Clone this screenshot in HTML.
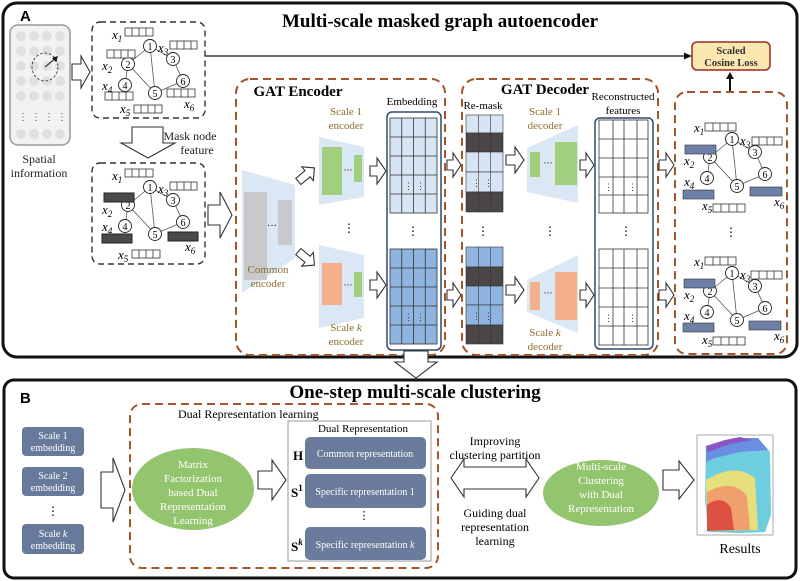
<!DOCTYPE html>
<html><head><meta charset="utf-8"><style>
html,body{margin:0;padding:0;background:#fff;}
svg{display:block;}
text{font-family:"Liberation Serif",serif;}
</style></head><body>
<svg width="800" height="581" viewBox="0 0 800 581" xmlns="http://www.w3.org/2000/svg">
<defs>
<style>
.bar{fill:#fff;stroke:#333;stroke-width:0.8}
.ln{stroke:#333;stroke-width:0.8}
.ed{stroke:#555;stroke-width:0.8}
.nd{fill:#fff;stroke:#222;stroke-width:0.9}
.nt{font-size:10px;text-anchor:middle}
.xl{font-size:13px;font-style:italic}
.ar{fill:#fff;stroke:#333;stroke-width:1.1;stroke-linejoin:miter}
.od{fill:none;stroke:#a5552a;stroke-width:2;stroke-dasharray:8 5}
.kd{fill:none;stroke:#333;stroke-width:1.4;stroke-dasharray:6 4}
.ol{font-size:11px;fill:#8a6d2a;text-anchor:middle}
.bl{font-size:11px;fill:#222;text-anchor:middle}
.wt{font-size:10px;fill:#fff;text-anchor:middle}
</style>
</defs>

<!-- Panel A -->
<rect x="3" y="3" width="794" height="354" rx="14" fill="#fff" stroke="#111" stroke-width="3"/>
<text x="20" y="21" font-family="Liberation Sans,sans-serif" font-weight="bold" font-size="15" style="font-family:'Liberation Sans',sans-serif">A</text>
<text x="440" y="27" font-size="19" font-weight="bold" text-anchor="middle">Multi-scale masked graph autoencoder</text>

<!-- spatial info -->
<rect x="10" y="25" width="60" height="120" rx="8" fill="#f2f2f2" stroke="#999" stroke-width="1.5"/>
<g fill="#e0e0e0">
<circle cx="21" cy="36" r="5"/><circle cx="34" cy="36" r="5"/><circle cx="47" cy="36" r="5"/><circle cx="60" cy="36" r="5"/>
<circle cx="21" cy="51" r="5"/><circle cx="34" cy="51" r="5"/><circle cx="47" cy="51" r="5"/><circle cx="60" cy="51" r="5"/>
<circle cx="21" cy="66" r="5"/><circle cx="34" cy="66" r="5"/><circle cx="47" cy="66" r="5"/><circle cx="60" cy="66" r="5"/>
<circle cx="21" cy="81" r="5"/><circle cx="34" cy="81" r="5"/><circle cx="47" cy="81" r="5"/><circle cx="60" cy="81" r="5"/>
<circle cx="21" cy="96" r="5"/><circle cx="34" cy="96" r="5"/><circle cx="47" cy="96" r="5"/><circle cx="60" cy="96" r="5"/>
<circle cx="21" cy="134" r="5"/><circle cx="34" cy="134" r="5"/><circle cx="47" cy="134" r="5"/><circle cx="60" cy="134" r="5"/>
</g>
<g fill="#555" font-size="10"><text x="18" y="120">⋮</text><text x="31" y="120">⋮</text><text x="44" y="120">⋮</text><text x="57" y="120">⋮</text></g>
<ellipse cx="45" cy="67" rx="13" ry="14" fill="none" stroke="#333" stroke-width="0.9" stroke-dasharray="2.5 2"/>
<line x1="45" y1="67" x2="56" y2="58" stroke="#111" stroke-width="1"/>
<polygon points="58,56 52,58 56,62" fill="#111"/>
<text x="39" y="163" class="bl" font-size="12" style="font-size:12px">Spatial</text>
<text x="39" y="177" class="bl" style="font-size:12px">information</text>

<path class="ar" d="M72,64 L81,64 L81,56 L90,72 L81,88 L81,80 L72,80 Z"/>

<!-- graph box 1 -->
<rect class="kd" x="92" y="22" width="113" height="96" rx="8"/>
<!-- graph box 2 -->
<rect class="kd" x="92" y="163" width="113" height="101" rx="8"/>

<!-- graph template function repeated -->
<g transform="translate(92,22)">
<line class="ed" x1="58" y1="24" x2="36" y2="42"/><line class="ed" x1="58" y1="24" x2="81" y2="37"/><line class="ed" x1="58" y1="24" x2="63" y2="71"/><line class="ed" x1="36" y1="42" x2="33" y2="63"/><line class="ed" x1="36" y1="42" x2="63" y2="71"/><line class="ed" x1="81" y1="37" x2="91" y2="59"/><line class="ed" x1="91" y1="59" x2="63" y2="71"/>
<circle class="nd" cx="58" cy="24" r="6.5"/><text class="nt" x="58" y="28">1</text>
<circle class="nd" cx="81" cy="37" r="6.5"/><text class="nt" x="81" y="41">3</text>
<circle class="nd" cx="36" cy="42" r="6.5"/><text class="nt" x="36" y="46">2</text>
<circle class="nd" cx="91" cy="59" r="6.5"/><text class="nt" x="91" y="63">6</text>
<circle class="nd" cx="33" cy="63" r="6.5"/><text class="nt" x="33" y="67">4</text>
<circle class="nd" cx="63" cy="71" r="6.5"/><text class="nt" x="63" y="75">5</text>
<text class="xl" x="20" y="17">x<tspan font-size="9" dy="3">1</tspan></text>
<rect class="bar" x="33" y="6" width="28" height="8"/><line class="ln" x1="40" y1="6" x2="40" y2="14"/><line class="ln" x1="47" y1="6" x2="47" y2="14"/><line class="ln" x1="54" y1="6" x2="54" y2="14"/>
<text class="xl" x="66" y="30">x<tspan font-size="9" dy="3">3</tspan></text>
<rect class="bar" x="78" y="19" width="27" height="8"/><line class="ln" x1="85" y1="19" x2="85" y2="27"/><line class="ln" x1="92" y1="19" x2="92" y2="27"/><line class="ln" x1="99" y1="19" x2="99" y2="27"/>
<rect class="bar" x="15" y="28" width="28" height="8"/><line class="ln" x1="22" y1="28" x2="22" y2="36"/><line class="ln" x1="29" y1="28" x2="29" y2="36"/><line class="ln" x1="36" y1="28" x2="36" y2="36"/>
<text class="xl" x="10" y="48">x<tspan font-size="9" dy="3">2</tspan></text>
<text class="xl" x="10" y="68">x<tspan font-size="9" dy="3">4</tspan></text>
<rect class="bar" x="13" y="70" width="28" height="8"/><line class="ln" x1="20" y1="70" x2="20" y2="78"/><line class="ln" x1="27" y1="70" x2="27" y2="78"/><line class="ln" x1="34" y1="70" x2="34" y2="78"/>
<rect class="bar" x="75" y="67" width="28" height="8"/><line class="ln" x1="82" y1="67" x2="82" y2="75"/><line class="ln" x1="89" y1="67" x2="89" y2="75"/><line class="ln" x1="96" y1="67" x2="96" y2="75"/>
<text class="xl" x="92" y="86">x<tspan font-size="9" dy="3">6</tspan></text>
<text class="xl" x="28" y="91">x<tspan font-size="9" dy="3">5</tspan></text>
<rect class="bar" x="42" y="83" width="28" height="8"/><line class="ln" x1="49" y1="83" x2="49" y2="91"/><line class="ln" x1="56" y1="83" x2="56" y2="91"/><line class="ln" x1="63" y1="83" x2="63" y2="91"/>
</g>

<g transform="translate(92,163)">
<line class="ed" x1="58" y1="24" x2="36" y2="42"/><line class="ed" x1="58" y1="24" x2="81" y2="37"/><line class="ed" x1="58" y1="24" x2="63" y2="71"/><line class="ed" x1="36" y1="42" x2="33" y2="63"/><line class="ed" x1="36" y1="42" x2="63" y2="71"/><line class="ed" x1="81" y1="37" x2="91" y2="59"/><line class="ed" x1="91" y1="59" x2="63" y2="71"/>
<circle class="nd" cx="58" cy="24" r="6.5"/><text class="nt" x="58" y="28">1</text>
<circle class="nd" cx="81" cy="37" r="6.5"/><text class="nt" x="81" y="41">3</text>
<circle class="nd" cx="36" cy="42" r="6.5"/><text class="nt" x="36" y="46">2</text>
<circle class="nd" cx="91" cy="59" r="6.5"/><text class="nt" x="91" y="63">6</text>
<circle class="nd" cx="33" cy="63" r="6.5"/><text class="nt" x="33" y="67">4</text>
<circle class="nd" cx="63" cy="71" r="6.5"/><text class="nt" x="63" y="75">5</text>
<text class="xl" x="20" y="17">x<tspan font-size="9" dy="3">1</tspan></text>
<rect class="bar" x="33" y="6" width="28" height="8"/><line class="ln" x1="40" y1="6" x2="40" y2="14"/><line class="ln" x1="47" y1="6" x2="47" y2="14"/><line class="ln" x1="54" y1="6" x2="54" y2="14"/>
<text class="xl" x="66" y="30">x<tspan font-size="9" dy="3">3</tspan></text>
<rect class="bar" x="78" y="19" width="27" height="8"/><line class="ln" x1="85" y1="19" x2="85" y2="27"/><line class="ln" x1="92" y1="19" x2="92" y2="27"/><line class="ln" x1="99" y1="19" x2="99" y2="27"/>
<rect x="12" y="30" width="30" height="9" fill="#4a4a4a" stroke="#222"/>
<text class="xl" x="10" y="51">x<tspan font-size="9" dy="3">2</tspan></text>
<text class="xl" x="10" y="68">x<tspan font-size="9" dy="3">4</tspan></text>
<rect x="10" y="71" width="30" height="9" fill="#4a4a4a" stroke="#222"/>
<rect x="76" y="69" width="30" height="9" fill="#4a4a4a" stroke="#222"/>
<text class="xl" x="93" y="88">x<tspan font-size="9" dy="3">6</tspan></text>
<text class="xl" x="26" y="96">x<tspan font-size="9" dy="3">5</tspan></text>
<rect class="bar" x="40" y="87" width="28" height="8"/><line class="ln" x1="47" y1="87" x2="47" y2="95"/><line class="ln" x1="54" y1="87" x2="54" y2="95"/><line class="ln" x1="61" y1="87" x2="61" y2="95"/>
</g>

<!-- mask arrow -->
<path class="ar" d="M132,127 L163,127 L163,143 L175,143 L148,158 L121,143 L132,143 Z"/>
<text x="190" y="140" class="bl" style="font-size:12px">Mask node</text>
<text x="197" y="154" class="bl" style="font-size:12px">feature</text>

<!-- top long line -->
<line x1="205" y1="56" x2="686" y2="56" stroke="#111" stroke-width="1.3"/>
<polygon points="692,56 684,52.5 684,59.5" fill="#111"/>
<rect x="692" y="42" width="78" height="28" rx="5" fill="#fde7b0" stroke="#9b2a1f" stroke-width="1.5"/>
<text x="731" y="54" font-size="10.5" font-weight="bold" text-anchor="middle" fill="#333">Scaled</text>
<text x="731" y="66" font-size="10.5" font-weight="bold" text-anchor="middle" fill="#333">Cosine Loss</text>
<line x1="730" y1="92" x2="730" y2="78" stroke="#111" stroke-width="2"/>
<polygon points="730,72 726,79 734,79" fill="#111"/>

<path class="ar" d="M208,205 L220,205 L220,192 L232,215 L220,238 L220,225 L208,225 Z"/>

<!-- GAT Encoder -->
<rect class="od" x="236" y="79" width="209" height="276" rx="14"/>
<text x="298" y="96" font-size="15" font-weight="bold" text-anchor="middle">GAT Encoder</text>
<polygon points="242,170 295,185 295,258 242,293" fill="#dae7f5"/>
<rect x="244" y="192" width="23" height="88" fill="#c9c9cc"/>
<rect x="278" y="200" width="14" height="45" fill="#c9c9cc"/>
<text x="272" y="229" font-size="10" text-anchor="middle">···</text>
<text class="ol" x="268" y="273">Common</text>
<text class="ol" x="268" y="287">encoder</text>
<!-- diagonal arrows -->
<path class="ar" transform="translate(306,175) rotate(-40)" d="M-10,-4 L2,-4 L2,-9 L11,0 L2,9 L2,4 L-10,4 Z"/>
<path class="ar" transform="translate(306,258) rotate(40)" d="M-10,-4 L2,-4 L2,-9 L11,0 L2,9 L2,4 L-10,4 Z"/>
<!-- scale 1 encoder -->
<text class="ol" x="346" y="115">Scale 1</text>
<text class="ol" x="346" y="129">encoder</text>
<polygon points="319,137 364,147 364,197 319,205" fill="#dae7f5"/>
<rect x="322" y="147" width="20" height="48" fill="#9fcf7f"/>
<rect x="354" y="155" width="8" height="27" fill="#9fcf7f"/>
<text x="348" y="173" font-size="9" text-anchor="middle">···</text>
<text x="349" y="232" font-size="12" text-anchor="middle">⋮</text>
<!-- scale k encoder -->
<polygon points="319,245 364,255 364,318 319,328" fill="#dae7f5"/>
<rect x="322" y="263" width="20" height="42" fill="#f4b08b"/>
<rect x="354" y="272" width="8" height="25" fill="#9fcf7f"/>
<text x="348" y="288" font-size="9" text-anchor="middle">···</text>
<text class="ol" x="346" y="331">Scale <tspan font-style="italic">k</tspan></text>
<text class="ol" x="346" y="345">encoder</text>

<path class="ar" d="M370,166 L377,166 L377,158 L386,171 L377,184 L377,176 L370,176 Z"/>
<path class="ar" d="M370,280 L377,280 L377,272 L386,285 L377,298 L377,290 L370,290 Z"/>

<!-- Embedding -->
<text x="412" y="105" font-size="11" text-anchor="middle">Embedding</text>
<rect x="387" y="112" width="54" height="238" rx="5" fill="#fff" stroke="#2e4a6e" stroke-width="1.5"/>
<g stroke="#333" stroke-width="0.8">
<rect x="390" y="118" width="47" height="95" fill="#d6e4f3"/>
<line x1="401.75" y1="118" x2="401.75" y2="213"/><line x1="413.5" y1="118" x2="413.5" y2="213"/><line x1="425.25" y1="118" x2="425.25" y2="213"/>
<line x1="390" y1="137" x2="437" y2="137"/><line x1="390" y1="156" x2="437" y2="156"/><line x1="390" y1="175" x2="437" y2="175"/><line x1="390" y1="194" x2="437" y2="194"/>
<rect x="390" y="249" width="47" height="95" fill="#8fb4e0"/>
<line x1="401.75" y1="249" x2="401.75" y2="344"/><line x1="413.5" y1="249" x2="413.5" y2="344"/><line x1="425.25" y1="249" x2="425.25" y2="344"/>
<line x1="390" y1="268" x2="437" y2="268"/><line x1="390" y1="287" x2="437" y2="287"/><line x1="390" y1="306" x2="437" y2="306"/><line x1="390" y1="325" x2="437" y2="325"/>
</g>
<g font-size="9" fill="#333"><text x="404" y="189">⋮</text><text x="416" y="189">⋮</text><text x="404" y="320">⋮</text><text x="416" y="320">⋮</text></g>
<text x="413" y="235" font-size="12" text-anchor="middle">⋮</text>

<path class="ar" d="M447,160 L453,160 L453,153 L461,165 L453,177 L453,170 L447,170 Z"/>
<path class="ar" d="M447,290 L453,290 L453,283 L461,295 L453,307 L453,300 L447,300 Z"/>

<!-- GAT Decoder -->
<rect class="od" x="462" y="79" width="196" height="276" rx="14"/>
<text x="545" y="94" font-size="15" font-weight="bold" text-anchor="middle">GAT Decoder</text>
<text x="483" y="109" font-size="11" text-anchor="middle">Re-mask</text>
<g stroke="#333" stroke-width="0.6">
<rect x="466" y="115" width="37" height="18" fill="#d6e4f3"/>
<rect x="466" y="133" width="37" height="19" fill="#4b4747"/>
<rect x="466" y="152" width="37" height="20" fill="#d6e4f3"/>
<rect x="466" y="172" width="37" height="20" fill="#d6e4f3"/>
<rect x="466" y="192" width="37" height="20" fill="#4b4747"/>
<line x1="478.3" y1="115" x2="478.3" y2="212"/><line x1="490.6" y1="115" x2="490.6" y2="212"/>
<rect x="466" y="247" width="37" height="20" fill="#8fb4e0"/>
<rect x="466" y="267" width="37" height="19" fill="#4b4747"/>
<rect x="466" y="286" width="37" height="19" fill="#8fb4e0"/>
<rect x="466" y="305" width="37" height="20" fill="#8fb4e0"/>
<rect x="466" y="325" width="37" height="19" fill="#4b4747"/>
<line x1="478.3" y1="247" x2="478.3" y2="344"/><line x1="490.6" y1="247" x2="490.6" y2="344"/>
</g>
<g font-size="9" fill="#333"><text x="472" y="186">⋮</text><text x="484" y="186">⋮</text><text x="472" y="319">⋮</text><text x="484" y="319">⋮</text></g>
<text x="483" y="235" font-size="12" text-anchor="middle">⋮</text>

<path class="ar" d="M506,155 L515,155 L515,147 L524,160 L515,173 L515,165 L506,165 Z"/>
<path class="ar" d="M506,285 L515,285 L515,277 L524,290 L515,303 L515,295 L506,295 Z"/>

<text class="ol" x="545" y="115">Scale 1</text>
<text class="ol" x="545" y="129">decoder</text>
<polygon points="527,148 578,125 578,203 527,192" fill="#dae7f5"/>
<rect x="530" y="152" width="10" height="25" fill="#9fcf7f"/>
<rect x="555" y="142" width="22" height="43" fill="#9fcf7f"/>
<text x="548" y="166" font-size="9" text-anchor="middle">···</text>
<text x="550" y="235" font-size="12" text-anchor="middle">⋮</text>
<polygon points="527,280 578,255 578,333 527,312" fill="#dae7f5"/>
<rect x="530" y="282" width="10" height="28" fill="#f4b08b"/>
<rect x="555" y="272" width="22" height="48" fill="#f4b08b"/>
<text x="548" y="296" font-size="9" text-anchor="middle">···</text>
<text class="ol" x="545" y="336">Scale <tspan font-style="italic">k</tspan></text>
<text class="ol" x="545" y="350">decoder</text>

<path class="ar" d="M580,160 L586,160 L586,153 L594,165 L586,177 L586,170 L580,170 Z"/>
<path class="ar" d="M580,290 L586,290 L586,283 L594,295 L586,307 L586,300 L580,300 Z"/>

<text x="623" y="100" font-size="11" text-anchor="middle">Reconstructed</text>
<text x="623" y="114" font-size="11" text-anchor="middle">features</text>
<rect x="595" y="118" width="58" height="231" rx="5" fill="#fff" stroke="#2e4a6e" stroke-width="1.5"/>
<g stroke="#333" stroke-width="0.8" fill="none">
<rect x="599" y="120" width="49" height="93"/>
<line x1="613" y1="120" x2="613" y2="213"/><line x1="624" y1="120" x2="624" y2="213"/><line x1="637" y1="120" x2="637" y2="213"/>
<line x1="599" y1="139" x2="648" y2="139"/><line x1="599" y1="158" x2="648" y2="158"/><line x1="599" y1="177" x2="648" y2="177"/><line x1="599" y1="195" x2="648" y2="195"/>
<rect x="599" y="249" width="49" height="96"/>
<line x1="613" y1="249" x2="613" y2="345"/><line x1="624" y1="249" x2="624" y2="345"/><line x1="637" y1="249" x2="637" y2="345"/>
<line x1="599" y1="268" x2="648" y2="268"/><line x1="599" y1="288" x2="648" y2="288"/><line x1="599" y1="307" x2="648" y2="307"/><line x1="599" y1="326" x2="648" y2="326"/>
</g>
<g font-size="9" fill="#333"><text x="604" y="190">⋮</text><text x="628" y="190">⋮</text><text x="604" y="321">⋮</text><text x="628" y="321">⋮</text></g>
<text x="626" y="235" font-size="12" text-anchor="middle">⋮</text>

<path class="ar" d="M659,160 L666,160 L666,153 L674,165 L666,177 L666,170 L659,170 Z"/>
<path class="ar" d="M659,290 L666,290 L666,283 L674,295 L666,307 L666,300 L659,300 Z"/>

<!-- output box -->
<rect class="od" x="675" y="92" width="112" height="262" rx="12"/>
<g transform="translate(674,115)">
<line class="ed" x1="58" y1="24" x2="36" y2="42"/><line class="ed" x1="58" y1="24" x2="81" y2="37"/><line class="ed" x1="58" y1="24" x2="63" y2="71"/><line class="ed" x1="36" y1="42" x2="33" y2="63"/><line class="ed" x1="36" y1="42" x2="63" y2="71"/><line class="ed" x1="81" y1="37" x2="91" y2="59"/><line class="ed" x1="91" y1="59" x2="63" y2="71"/>
<circle class="nd" cx="58" cy="24" r="6.5"/><text class="nt" x="58" y="28">1</text>
<circle class="nd" cx="81" cy="37" r="6.5"/><text class="nt" x="81" y="41">3</text>
<circle class="nd" cx="36" cy="42" r="6.5"/><text class="nt" x="36" y="46">2</text>
<circle class="nd" cx="91" cy="59" r="6.5"/><text class="nt" x="91" y="63">6</text>
<circle class="nd" cx="33" cy="63" r="6.5"/><text class="nt" x="33" y="67">4</text>
<circle class="nd" cx="63" cy="71" r="6.5"/><text class="nt" x="63" y="75">5</text>
<text class="xl" x="20" y="17">x<tspan font-size="9" dy="3">1</tspan></text>
<rect class="bar" x="31" y="8" width="31" height="8"/><line class="ln" x1="39" y1="8" x2="39" y2="16"/><line class="ln" x1="46" y1="8" x2="46" y2="16"/><line class="ln" x1="54" y1="8" x2="54" y2="16"/>
<text class="xl" x="66" y="30">x<tspan font-size="9" dy="3">3</tspan></text>
<rect class="bar" x="78" y="22" width="30" height="8"/><line class="ln" x1="85" y1="22" x2="85" y2="30"/><line class="ln" x1="93" y1="22" x2="93" y2="30"/><line class="ln" x1="100" y1="22" x2="100" y2="30"/>
<rect x="11" y="30" width="31" height="9" fill="#6c80a8" stroke="#333" stroke-width="0.6"/>
<text class="xl" x="10" y="50">x<tspan font-size="9" dy="3">2</tspan></text>
<text class="xl" x="10" y="71">x<tspan font-size="9" dy="3">4</tspan></text>
<rect x="9" y="75" width="31" height="9" fill="#6c80a8" stroke="#333" stroke-width="0.6"/>
<rect x="76" y="72" width="32" height="9" fill="#6c80a8" stroke="#333" stroke-width="0.6"/>
<text class="xl" x="100" y="91">x<tspan font-size="9" dy="3">6</tspan></text>
<text class="xl" x="28" y="95">x<tspan font-size="9" dy="3">5</tspan></text>
<rect class="bar" x="39" y="89" width="32" height="8"/><line class="ln" x1="47" y1="89" x2="47" y2="97"/><line class="ln" x1="55" y1="89" x2="55" y2="97"/><line class="ln" x1="63" y1="89" x2="63" y2="97"/>
</g>
<text x="731" y="236" font-size="12" text-anchor="middle">⋮</text>
<g transform="translate(674,249)">
<line class="ed" x1="58" y1="24" x2="36" y2="42"/><line class="ed" x1="58" y1="24" x2="81" y2="37"/><line class="ed" x1="58" y1="24" x2="63" y2="71"/><line class="ed" x1="36" y1="42" x2="33" y2="63"/><line class="ed" x1="36" y1="42" x2="63" y2="71"/><line class="ed" x1="81" y1="37" x2="91" y2="59"/><line class="ed" x1="91" y1="59" x2="63" y2="71"/>
<circle class="nd" cx="58" cy="24" r="6.5"/><text class="nt" x="58" y="28">1</text>
<circle class="nd" cx="81" cy="37" r="6.5"/><text class="nt" x="81" y="41">3</text>
<circle class="nd" cx="36" cy="42" r="6.5"/><text class="nt" x="36" y="46">2</text>
<circle class="nd" cx="91" cy="59" r="6.5"/><text class="nt" x="91" y="63">6</text>
<circle class="nd" cx="33" cy="63" r="6.5"/><text class="nt" x="33" y="67">4</text>
<circle class="nd" cx="63" cy="71" r="6.5"/><text class="nt" x="63" y="75">5</text>
<text class="xl" x="20" y="17">x<tspan font-size="9" dy="3">1</tspan></text>
<rect class="bar" x="31" y="8" width="31" height="8"/><line class="ln" x1="39" y1="8" x2="39" y2="16"/><line class="ln" x1="46" y1="8" x2="46" y2="16"/><line class="ln" x1="54" y1="8" x2="54" y2="16"/>
<text class="xl" x="66" y="30">x<tspan font-size="9" dy="3">3</tspan></text>
<rect class="bar" x="77" y="22" width="31" height="8"/><line class="ln" x1="85" y1="22" x2="85" y2="30"/><line class="ln" x1="93" y1="22" x2="93" y2="30"/><line class="ln" x1="100" y1="22" x2="100" y2="30"/>
<rect x="10" y="30" width="31" height="9" fill="#6c80a8" stroke="#333" stroke-width="0.6"/>
<text class="xl" x="10" y="50">x<tspan font-size="9" dy="3">2</tspan></text>
<text class="xl" x="10" y="71">x<tspan font-size="9" dy="3">4</tspan></text>
<rect x="9" y="74" width="31" height="9" fill="#6c80a8" stroke="#333" stroke-width="0.6"/>
<rect x="75" y="72" width="32" height="9" fill="#6c80a8" stroke="#333" stroke-width="0.6"/>
<text class="xl" x="100" y="91">x<tspan font-size="9" dy="3">6</tspan></text>
<text class="xl" x="28" y="95">x<tspan font-size="9" dy="3">5</tspan></text>
<rect class="bar" x="39" y="88" width="32" height="8"/><line class="ln" x1="47" y1="88" x2="47" y2="96"/><line class="ln" x1="55" y1="88" x2="55" y2="96"/><line class="ln" x1="63" y1="88" x2="63" y2="96"/>
</g>

<!-- down arrow between panels -->
<path class="ar" d="M404,351 L428,351 L428,362 L437,362 L416,378 L395,362 L404,362 Z"/>

<!-- Panel B -->
<rect x="4" y="380" width="792" height="198" rx="10" fill="#fff" stroke="#111" stroke-width="3"/>
<text x="20" y="403" font-weight="bold" font-size="15" style="font-family:'Liberation Sans',sans-serif">B</text>
<text x="415" y="398" font-size="19" font-weight="bold" text-anchor="middle">One-step multi-scale clustering</text>

<rect x="22" y="427" width="62" height="29" rx="4" fill="#687a9c"/>
<text class="wt" x="53" y="439">Scale 1</text><text class="wt" x="53" y="451">embedding</text>
<rect x="22" y="467" width="62" height="29" rx="4" fill="#687a9c"/>
<text class="wt" x="53" y="479">Scale 2</text><text class="wt" x="53" y="491">embedding</text>
<text x="53" y="515" font-size="12" text-anchor="middle">⋮</text>
<rect x="22" y="524" width="62" height="30" rx="4" fill="#687a9c"/>
<text class="wt" x="53" y="537">Scale <tspan font-style="italic">k</tspan></text><text class="wt" x="53" y="549">embedding</text>

<path class="ar" d="M101,472 L113,472 L113,458 L125,490 L113,522 L113,508 L101,508 Z"/>

<rect class="od" x="130" y="404" width="308" height="164" rx="12"/>
<text x="178" y="418" font-size="12">Dual Representation learning</text>
<ellipse cx="193" cy="489" rx="61" ry="41" fill="#93c46e"/>
<text class="wt" x="193" y="468" style="font-size:11px">Matrix</text>
<text class="wt" x="193" y="482" style="font-size:11px">Factorization</text>
<text class="wt" x="193" y="496" style="font-size:11px">based Dual</text>
<text class="wt" x="193" y="510" style="font-size:11px">Representation</text>
<text class="wt" x="193" y="524" style="font-size:11px">Learning</text>

<path class="ar" d="M258,471 L272,471 L272,460 L286,480 L272,500 L272,489 L258,489 Z"/>

<rect x="288" y="421" width="143" height="140" fill="#fff" stroke="#999" stroke-width="1"/>
<text x="363" y="432" font-size="11" text-anchor="middle">Dual Representation</text>
<rect x="305" y="437" width="121" height="32" rx="5" fill="#6a7b9c"/>
<text class="wt" x="365" y="457">Common representation</text>
<text x="293" y="460" font-size="13" font-weight="bold">H</text>
<rect x="305" y="474" width="121" height="34" rx="5" fill="#6a7b9c"/>
<text class="wt" x="365" y="495">Specific representation 1</text>
<text x="291" y="497" font-size="13" font-weight="bold">S<tspan font-size="9" dy="-6">1</tspan></text>
<text x="364" y="519" font-size="11" text-anchor="middle">⋮</text>
<rect x="305" y="527" width="121" height="33" rx="5" fill="#6a7b9c"/>
<text class="wt" x="365" y="548">Specific representation <tspan font-style="italic">k</tspan></text>
<text x="291" y="551" font-size="13" font-weight="bold">S<tspan font-size="9" dy="-6" font-style="italic">k</tspan></text>

<path class="ar" d="M451,478 L464,459 L464,467 L526,467 L526,459 L539,478 L526,497 L526,489 L464,489 L464,497 Z"/>
<text x="495" y="445" font-size="12" text-anchor="middle">Improving</text>
<text x="495" y="459" font-size="12" text-anchor="middle">clustering partition</text>
<text x="495" y="517" font-size="12" text-anchor="middle">Guiding dual</text>
<text x="495" y="531" font-size="12" text-anchor="middle">representation</text>
<text x="495" y="545" font-size="12" text-anchor="middle">learning</text>

<ellipse cx="601" cy="493" rx="58" ry="33" fill="#93c46e"/>
<text class="wt" x="601" y="470" style="font-size:11px">Multi-scale</text>
<text class="wt" x="601" y="484" style="font-size:11px">Clustering</text>
<text class="wt" x="601" y="498" style="font-size:11px">with Dual</text>
<text class="wt" x="601" y="512" style="font-size:11px">Representation</text>

<path class="ar" d="M663,470 L679,470 L679,461 L694,480 L679,499 L679,490 L663,490 Z"/>

<rect x="697" y="435" width="76" height="100" fill="#fff" stroke="#aaa" stroke-width="1"/>
<path d="M706,446 L735,438 L758,438 L770,452 L771,515 L765,532 L740,533 L708,532 L705,500 Z" fill="#6fcde0"/>
<path d="M706,446 L735,438 L758,438 L768,450 L740,452 L715,458 L706,462 Z" fill="#6a8fe0"/>
<path d="M706,446 L725,440 L740,437 L752,440 L730,444 L708,452 Z" fill="#8b55c8"/>
<path d="M706,480 Q735,462 755,478 L758,530 L707,531 Z" fill="#e6df7c"/>
<path d="M707,492 Q733,478 747,496 L750,530 L707,531 Z" fill="#f0a06c"/>
<path d="M707,505 Q722,494 731,508 L734,530 L707,531 Z" fill="#dd5143"/>
<text x="740" y="553" font-size="14" text-anchor="middle">Results</text>
</svg>
</body></html>
